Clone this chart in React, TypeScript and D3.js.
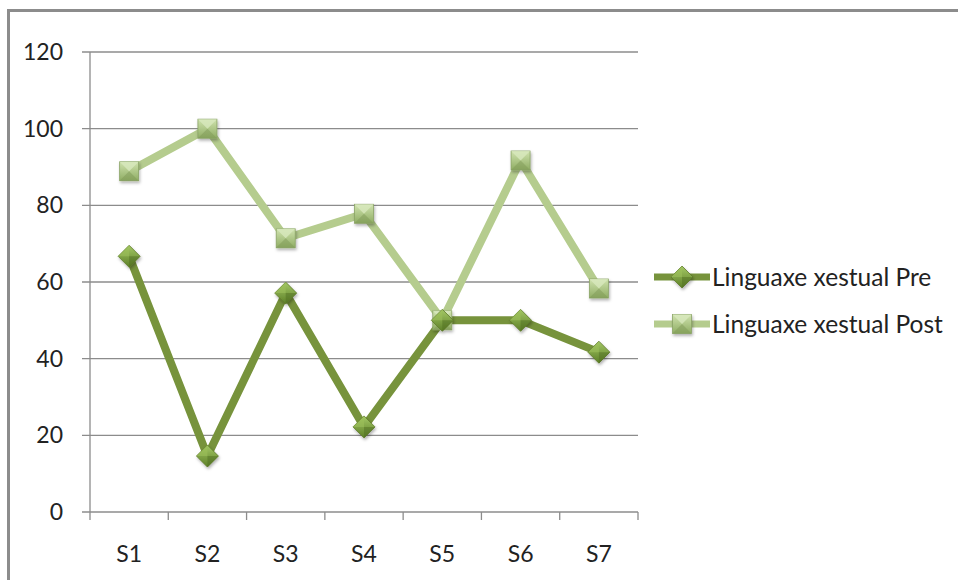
import React from "react";
import * as d3 from "d3";

const categories = ["S1", "S2", "S3", "S4", "S5", "S6", "S7"];
const preValues = [66.7, 14.6, 57.1, 22.2, 50, 50, 41.7];
const postValues = [88.9, 100, 71.4, 77.8, 50, 91.7, 58.3];
const yTicks = [0, 20, 40, 60, 80, 100, 120];
const seriesNames = ["Linguaxe xestual Pre", "Linguaxe xestual Post"];

const W = 958, H = 580;
const left = 90, right = 638, top = 52, bottom = 512;
const font = "Lato, 'Open Sans', sans-serif";

export default function App() {
  const x = d3.scaleBand<string>().domain(categories).range([left, right]);
  const y = d3.scaleLinear().domain([0, 120]).range([bottom, top]);
  const cx = (c: string) => (x(c) ?? 0) + x.bandwidth() / 2;
  const line = d3.line<number>().x((_, i) => cx(categories[i])).y((v) => y(v));

  const preColor = "#77933C";
  const postColor = "#B5CC8E";

  const diamond = (px: number, py: number, key: string) => (
    <g key={key} transform={`translate(${px},${py})`}>
      <path d="M0,-11 L11,0 L0,11 L-11,0 Z" fill="url(#gDia)" stroke="#5E7A2A" strokeWidth={0.8} />
      <path d="M-11,0 L0,0 L0,-11 Z" fill="#9CC05A" opacity={0.6} />
      <path d="M0,0 L11,0 L0,11 Z" fill="#4F6E22" opacity={0.5} />
    </g>
  );
  const square = (px: number, py: number, key: string) => (
    <g key={key} transform={`translate(${px},${py})`}>
      <rect x={-9.5} y={-9.5} width={19} height={19} fill="url(#gSq)" stroke="#8AA366" strokeWidth={0.8} />
      <path d="M-9.5,-9.5 L9.5,-9.5 L0,0 Z" fill="#D8E8BE" opacity={0.8} />
      <path d="M-9.5,9.5 L9.5,9.5 L0,0 Z" fill="#7F9A58" opacity={0.5} />
    </g>
  );

  const legX = 654;
  const legY = [277, 324];

  return (
    <svg width={W} height={H} style={{ position: "absolute", left: 0, top: 0 }}>
      <defs>
        <linearGradient id="gDia" x1="0" y1="0" x2="0" y2="1">
          <stop offset="0" stopColor="#A4C866" />
          <stop offset="1" stopColor="#5C7F26" />
        </linearGradient>
        <linearGradient id="gSq" x1="0" y1="0" x2="0" y2="1">
          <stop offset="0" stopColor="#CFE2AE" />
          <stop offset="1" stopColor="#8FAD63" />
        </linearGradient>
        <filter id="sh" x="-50%" y="-50%" width="200%" height="200%">
          <feDropShadow dx="1" dy="2" stdDeviation="1.5" floodColor="#000" floodOpacity="0.3" />
        </filter>
      </defs>
      <rect x={0} y={0} width={W} height={H} fill="#fff" />
      <path d={`M8.5,${H} L8.5,10.5 L${W},10.5`} fill="none" stroke="#8C8C8C" strokeWidth={3} />

      {yTicks.map((t) => (
        <g key={t}>
          <line x1={left - 8} x2={right} y1={y(t)} y2={y(t)} stroke="#8C8C8C" strokeWidth={1.3} />
          <text x={63} y={y(t)} dy="0.35em" textAnchor="end" fontFamily={font} fontSize={23} fill="#222">{t}</text>
        </g>
      ))}
      <line x1={left} x2={left} y1={top} y2={bottom + 8} stroke="#8C8C8C" strokeWidth={1.3} />
      {categories.map((c) => (
        <g key={c}>
          <line x1={(x(c) ?? 0) + x.bandwidth()} x2={(x(c) ?? 0) + x.bandwidth()} y1={bottom} y2={bottom + 8} stroke="#8C8C8C" strokeWidth={1.3} />
          <text x={cx(c)} y={554} dy="0.35em" textAnchor="middle" fontFamily={font} fontSize={23} fill="#222">{c}</text>
        </g>
      ))}

      <path d={line(postValues) ?? ""} fill="none" stroke={postColor} strokeWidth={8} strokeLinejoin="round" />
      <path d={line(preValues) ?? ""} fill="none" stroke={preColor} strokeWidth={8} strokeLinejoin="round" />
      <g filter="url(#sh)">
        {postValues.map((v, i) => square(cx(categories[i]), y(v), "p" + i))}
        {preValues.map((v, i) => diamond(cx(categories[i]), y(v), "d" + i))}
      </g>

      <line x1={legX} x2={legX + 56} y1={legY[0]} y2={legY[0]} stroke={preColor} strokeWidth={7} />
      <g filter="url(#sh)">{diamond(legX + 28, legY[0], "ld")}</g>
      <text x={legX + 58} y={legY[0]} dy="0.35em" fontFamily={font} fontSize={24.5} fill="#222">{seriesNames[0]}</text>
      <line x1={legX} x2={legX + 56} y1={legY[1]} y2={legY[1]} stroke={postColor} strokeWidth={7} />
      <g filter="url(#sh)">{square(legX + 28, legY[1], "ls")}</g>
      <text x={legX + 58} y={legY[1]} dy="0.35em" fontFamily={font} fontSize={24.5} fill="#222">{seriesNames[1]}</text>
    </svg>
  );
}
